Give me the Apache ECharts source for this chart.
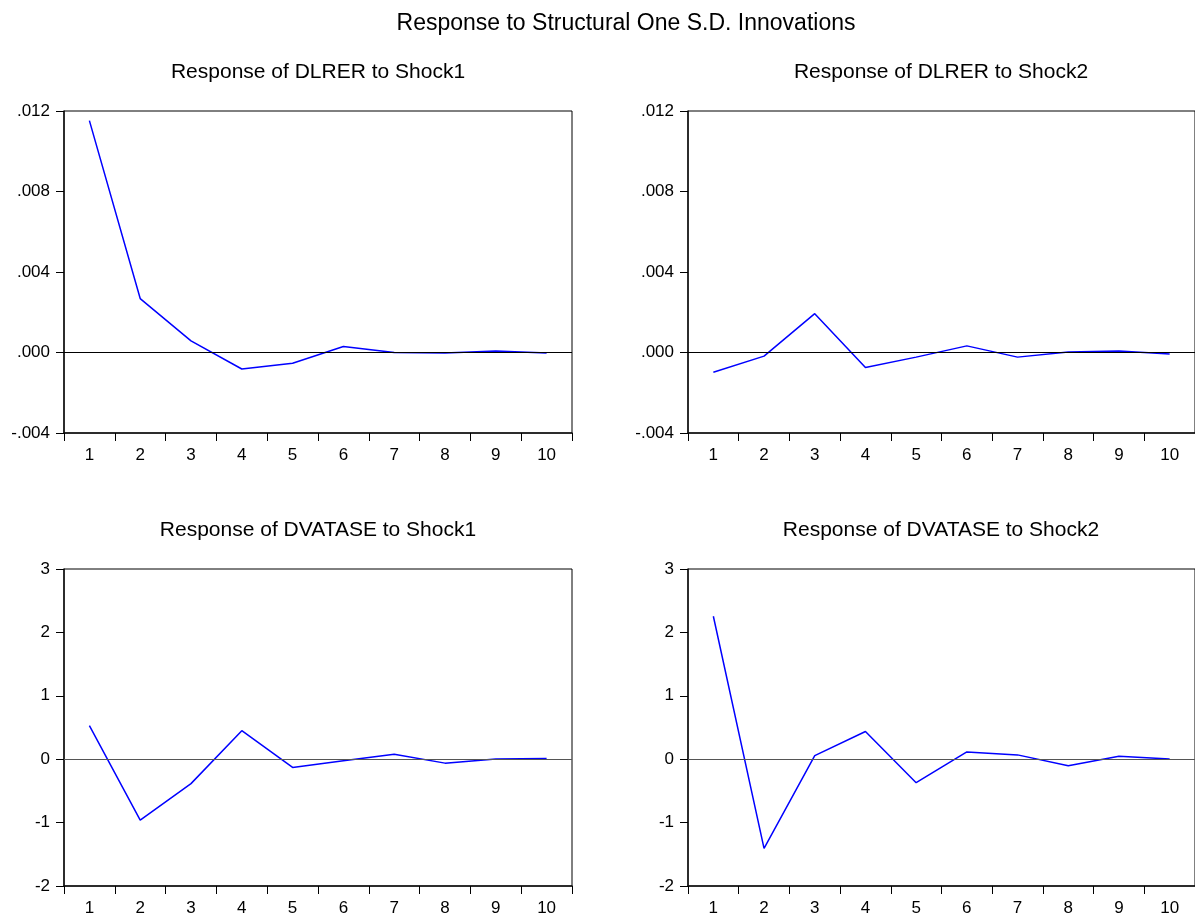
<!DOCTYPE html>
<html>
<head>
<meta charset="utf-8">
<script src="https://cdn.jsdelivr.net/npm/echarts@6/dist/echarts.min.js"></script>
<style>
html,body{margin:0;padding:0;background:#fff;}
#chart{width:1195px;height:917px;}
</style>
</head>
<body>
<div id="chart"></div>
<script>
// ---- data ----
const periods = ['1','2','3','4','5','6','7','8','9','10'];
const dlrerShock1 = [0.01152, 0.00268, 0.00058, -0.00082, -0.00053, 0.00030, 0.00000, -0.00003, 0.00008, -0.00003];
const dlrerShock2 = [-0.00098, -0.00018, 0.00193, -0.00075, -0.00023, 0.00033, -0.00023, 0.00003, 0.00008, -0.00007];
const dvataseShock1 = [0.53, -0.96, -0.385, 0.45, -0.13, -0.026, 0.078, -0.062, 0.005, 0.01];
const dvataseShock2 = [2.255, -1.406, 0.057, 0.437, -0.37, 0.115, 0.068, -0.104, 0.047, 0.005];
const yTicksDlrer = ['-.004', '.000', '.004', '.008', '.012'];
const yTicksDvatase = ['-2', '-1', '0', '1', '2', '3'];
const mainTitle = 'Response to Structural One S.D. Innovations';
const panelTitles = ['Response of DLRER to Shock1', 'Response of DLRER to Shock2',
                     'Response of DVATASE to Shock1', 'Response of DVATASE to Shock2'];

// ---- layout ----
const FONT = 'Liberation Sans, Arial, sans-serif';
const panels = [
  {data: dlrerShock1, ticks: yTicksDlrer, min: -0.004, max: 0.012, interval: 0.004, left: 64, top: 111, width: 508, zero: '#000', tx: 318, ty: 62},
  {data: dlrerShock2, ticks: yTicksDlrer, min: -0.004, max: 0.012, interval: 0.004, left: 688, top: 111, width: 507, zero: '#000', tx: 941, ty: 62},
  {data: dvataseShock1, ticks: yTicksDvatase, min: -2, max: 3, interval: 1, left: 64, top: 569, width: 508, zero: '#555', tx: 318, ty: 520},
  {data: dvataseShock2, ticks: yTicksDvatase, min: -2, max: 3, interval: 1, left: 688, top: 569, width: 507, zero: '#555', tx: 941, ty: 520}
];

const option = {
  animation: false,
  backgroundColor: '#fff',
  title: [{
    text: mainTitle, left: 626, top: 12, textAlign: 'center', padding: 0,
    textStyle: {fontFamily: FONT, fontSize: 23, fontWeight: 'normal', color: '#000'}
  }].concat(panels.map((p, i) => ({
    text: panelTitles[i], left: p.tx, top: p.ty, textAlign: 'center', padding: 0,
    textStyle: {fontFamily: FONT, fontSize: 21, fontWeight: 'normal', color: '#000'}
  }))),
  grid: panels.map(p => ({
    left: p.left, top: p.top, width: p.width, height: 322,
    show: true, borderColor: '#000', borderWidth: 1, backgroundColor: 'transparent',
    containLabel: false
  })),
  xAxis: panels.map((p, i) => ({
    type: 'category', gridIndex: i, data: periods, boundaryGap: true, position: 'bottom',
    axisLine: {show: true, onZero: false, lineStyle: {color: '#111', width: 1.5}},
    axisTick: {show: true, inside: false, length: 8, interval: 0, alignWithLabel: false, lineStyle: {color: '#000'}},
    axisLabel: {show: true, interval: 0, margin: 14, color: '#000', fontFamily: FONT, fontSize: 17},
    splitLine: {show: false}
  })),
  yAxis: panels.map((p, i) => ({
    type: 'value', gridIndex: i, min: p.min, max: p.max, interval: p.interval,
    axisLine: {show: true, onZero: false, lineStyle: {color: '#111', width: 1.5}},
    axisTick: {show: true, inside: false, length: 8, lineStyle: {color: '#000'}},
    axisLabel: {
      show: true, margin: 14, color: '#000', fontFamily: FONT, fontSize: 17,
      formatter: (v) => p.ticks[Math.round((v - p.min) / p.interval)]
    },
    splitLine: {show: false}
  })),
  series: panels.map((p, i) => ({
    type: 'line', xAxisIndex: i, yAxisIndex: i, data: p.data,
    showSymbol: false, symbol: 'none',
    lineStyle: {color: '#0000ff', width: 1.5},
    markLine: {
      silent: true, symbol: ['none', 'none'], label: {show: false},
      lineStyle: {color: p.zero, width: 1, type: 'solid'},
      data: [{yAxis: 0}]
    },
    z: 3
  }))
};

const chart = echarts.init(document.getElementById('chart'), null, {renderer: 'canvas'});
chart.setOption(option);
</script>
</body>
</html>
